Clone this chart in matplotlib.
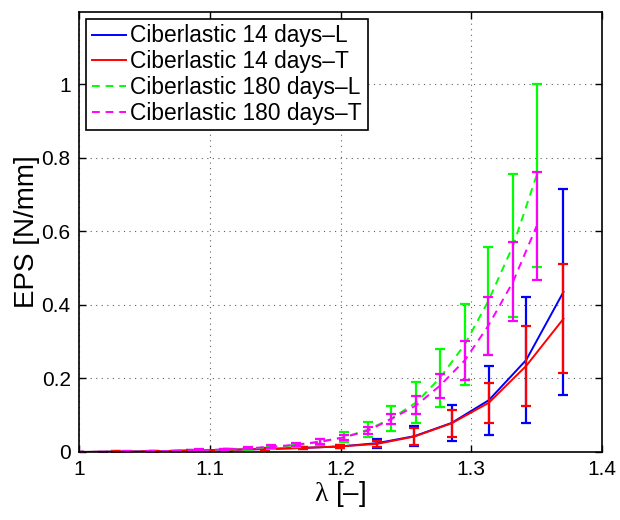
import numpy as np
import matplotlib.pyplot as plt

plt.rcParams['font.family'] = ['Liberation Sans', 'DejaVu Sans']
plt.rcParams['mathtext.fontset'] = 'custom'
plt.rcParams['mathtext.rm'] = 'Liberation Serif'
plt.rcParams['mathtext.it'] = 'Liberation Serif'

# stretch values, 14 days samples
stretch_14 = [1.000, 1.0285, 1.057, 1.0855, 1.114, 1.1425, 1.171, 1.1995,
              1.228, 1.2565, 1.285, 1.3135, 1.342, 1.3705]
eps_14_L = [0, 0.001, 0.002, 0.004, 0.006, 0.008, 0.011, 0.015,
            0.024, 0.043, 0.079, 0.141, 0.250, 0.435]
err_14_L = [0, 0.0005, 0.001, 0.001, 0.002, 0.002, 0.003, 0.005,
            0.012, 0.027, 0.049, 0.094, 0.170, 0.280]
eps_14_T = [0, 0.001, 0.002, 0.004, 0.006, 0.008, 0.011, 0.015,
            0.022, 0.042, 0.078, 0.134, 0.234, 0.362]
err_14_T = [0, 0.0005, 0.001, 0.001, 0.002, 0.002, 0.003, 0.005,
            0.008, 0.023, 0.037, 0.054, 0.108, 0.148]

# stretch values, 180 days samples
stretch_180 = [1.000, 1.018, 1.037, 1.055, 1.074, 1.092, 1.111, 1.129, 1.147, 1.166,
               1.184, 1.203, 1.221, 1.239, 1.258, 1.276, 1.295, 1.313, 1.332, 1.350]
eps_180_L = [0, 0.0005, 0.001, 0.002, 0.003, 0.004, 0.006, 0.009, 0.013, 0.018,
             0.027, 0.040, 0.061, 0.091, 0.135, 0.201, 0.292, 0.410, 0.561, 0.752]
err_180_L = [0, 0.0003, 0.0005, 0.001, 0.001, 0.002, 0.002, 0.003, 0.004, 0.005,
             0.008, 0.014, 0.020, 0.034, 0.055, 0.079, 0.110, 0.147, 0.195, 0.248]
eps_180_T = [0, 0.0005, 0.001, 0.002, 0.003, 0.005, 0.007, 0.010, 0.014, 0.020,
             0.028, 0.040, 0.058, 0.090, 0.127, 0.180, 0.249, 0.343, 0.463, 0.614]
err_180_T = [0, 0.0003, 0.0005, 0.001, 0.001, 0.002, 0.002, 0.003, 0.004, 0.005,
             0.006, 0.007, 0.010, 0.014, 0.024, 0.033, 0.053, 0.079, 0.107, 0.147]

labels = ['Ciberlastic 14 days\u2013L', 'Ciberlastic 14 days\u2013T',
          'Ciberlastic 180 days\u2013L', 'Ciberlastic 180 days\u2013T']

fig = plt.figure(figsize=(6.2, 5.2), dpi=100)
ax = fig.add_axes([0.1274, 0.1308, 0.8436, 0.8462])

series = [
    (stretch_14, eps_14_L, err_14_L, (0, 0, 1), '-'),
    (stretch_14, eps_14_T, err_14_T, (1, 0, 0), '-'),
    (stretch_180, eps_180_L, err_180_L, (0, 1, 0), '--'),
    (stretch_180, eps_180_T, err_180_T, (1, 0, 1), '--'),
]

handles = []
for (x, y, e, c, ls), lab in zip(series, labels):
    ax.errorbar(x, y, yerr=e, fmt='none', ecolor=c, elinewidth=1.6,
                capsize=3.8, capthick=1.6)
    h, = ax.plot(x, y, color=c, linestyle=ls, linewidth=1.4, label=lab,
                 dashes=(4, 3) if ls == '--' else (None, None))
    handles.append(h)

ax.set_xlim(1.0, 1.4)
ax.set_ylim(0, 1.196)
ax.set_xticks([1.0, 1.1, 1.2, 1.3, 1.4])
ax.set_xticklabels(['1', '1.1', '1.2', '1.3', '1.4'])
ax.set_yticks([0, 0.2, 0.4, 0.6, 0.8, 1.0])
ax.set_yticklabels(['0', '0.2', '0.4', '0.6', '0.8', '1'])
ax.tick_params(direction='in', top=True, right=True, labelsize=15,
               length=5, width=1, pad=6)
ax.grid(True, linestyle=(0, (1, 4)), color='#606060', linewidth=0.8)
for sp in ax.spines.values():
    sp.set_linewidth(1.2)

ax.set_xlabel('$\\lambda$ [\u2013]', fontsize=20, labelpad=0)
ax.set_ylabel('EPS [N/mm]', fontsize=20, labelpad=1)

leg = ax.legend(handles=handles, loc='upper left', fontsize=16.4,
                handlelength=1.5, handletextpad=0.2, labelspacing=0.12,
                borderpad=0.25, borderaxespad=0.3, fancybox=False,
                framealpha=1, edgecolor='black')
leg.get_frame().set_linewidth(1.2)

fig.savefig('out.png', dpi=100)
